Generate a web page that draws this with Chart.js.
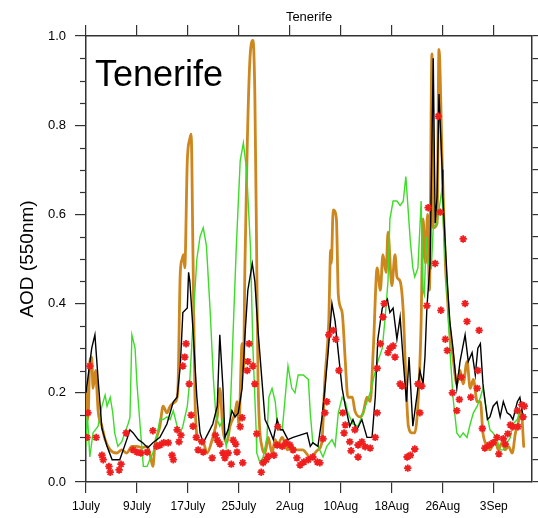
<!DOCTYPE html>
<html>
<head>
<meta charset="utf-8">
<title>Tenerife AOD</title>
<script src="https://cdn.jsdelivr.net/npm/chart.js@4.4.1/dist/chart.umd.min.js"></script>
<style>
  html, body { margin: 0; padding: 0; background: #fff; }
  #wrap { width: 538px; height: 518px; }
</style>
</head>
<body>
<div id="wrap"><canvas id="aodChart" width="538" height="518"></canvas></div>
<script>
// station name and axis labels
const stationName = 'Tenerife';
const yTitle = 'AOD (550nm)';

// days after 1 July and their labels
const tickDays = [0, 8, 16, 24, 32, 40, 48, 56, 64];
const tickLabels = ['1July', '9July', '17July', '25July', '2Aug', '10Aug', '18Aug', '26Aug', '3Sep'];

// model runs, [day, AOD]
const modelBlack = [
  [0, 0.20], [0.9, 0.30], [1.4, 0.33], [1.9, 0.23], [2.5, 0.12], [3.3, 0.08], [4.1, 0.05], [5.3, 0.05],
  [6.4, 0.095], [6.9, 0.117], [7.4, 0.11], [8.2, 0.095], [8.9, 0.088], [9.7, 0.077], [10.5, 0.088],
  [11.6, 0.10], [12.7, 0.13], [13.7, 0.18], [14.3, 0.19], [14.8, 0.26], [15.2, 0.38], [15.9, 0.39],
  [16.1, 0.47], [16.3, 0.45], [16.8, 0.34], [17.4, 0.19], [17.9, 0.11], [18.4, 0.088], [19.2, 0.11],
  [19.9, 0.13], [20.6, 0.17], [21.0, 0.33], [21.5, 0.21], [21.8, 0.10], [22.3, 0.117], [22.9, 0.16],
  [23.4, 0.146], [23.9, 0.155], [24.5, 0.21], [25.0, 0.34], [25.4, 0.43], [26.1, 0.49], [26.5, 0.45],
  [27.0, 0.34], [27.6, 0.23], [28.1, 0.14], [28.6, 0.125], [29.4, 0.095], [30.0, 0.14], [30.5, 0.117],
  [30.9, 0.117], [31.7, 0.095], [32.5, 0.10], [33.6, 0.105], [34.7, 0.11], [35.2, 0.08], [35.6, 0.088],
  [36.4, 0.08], [37.0, 0.14], [37.5, 0.21], [38.0, 0.29], [38.6, 0.40], [39.1, 0.36], [39.6, 0.29],
  [40.2, 0.21], [40.7, 0.17], [41.4, 0.125], [41.9, 0.14], [42.5, 0.117], [43.3, 0.14], [44.1, 0.10],
  [44.9, 0.10], [45.4, 0.19], [45.8, 0.32], [46.5, 0.39], [47.3, 0.41], [47.7, 0.38], [48.2, 0.39],
  [48.8, 0.32], [49.3, 0.37], [49.8, 0.27], [50.3, 0.18], [50.7, 0.28], [51.3, 0.125], [52.0, 0.20],
  [52.4, 0.25], [52.9, 0.22], [53.2, 0.28], [53.5, 0.39], [54.0, 0.49], [54.5, 0.95], [54.8, 0.58],
  [55.1, 0.64], [55.4, 0.87], [55.9, 0.70], [56.0, 0.64], [56.7, 0.45], [57.1, 0.36], [57.6, 0.30],
  [58.2, 0.21], [58.7, 0.27], [59.5, 0.33], [60.0, 0.27], [60.6, 0.29], [61.1, 0.24], [61.5, 0.30],
  [61.9, 0.31], [62.3, 0.22], [63.0, 0.14], [63.4, 0.146], [63.9, 0.17], [64.5, 0.18], [65.0, 0.146],
  [65.5, 0.18], [66.1, 0.155], [66.6, 0.15], [67.0, 0.14], [67.7, 0.18], [68.1, 0.19], [68.6, 0.146]
];

const modelOrange = [
  [0, 0.21], [0.3, 0.14], [0.6, 0.27], [0.9, 0.28], [1.1, 0.21], [1.5, 0.25], [1.7, 0.21], [1.9, 0.16],
  [2.5, 0.125], [3.0, 0.095], [3.8, 0.072], [4.8, 0.065], [5.6, 0.072], [6.4, 0.065], [7.2, 0.08],
  [8.0, 0.08], [8.8, 0.077], [9.6, 0.08], [10.0, 0.065], [10.5, 0.035], [10.8, 0.08], [11.6, 0.125],
  [12.1, 0.17], [12.7, 0.155], [13.2, 0.17], [14.0, 0.18], [14.4, 0.20], [14.8, 0.47], [15.1, 0.50],
  [15.3, 0.51], [15.5, 0.48], [15.9, 0.72], [16.3, 0.77], [16.5, 0.78], [16.8, 0.50], [17.1, 0.19],
  [17.6, 0.095], [18.4, 0.088], [19.0, 0.065], [19.8, 0.095], [20.6, 0.146], [21.0, 0.21], [21.5, 0.117],
  [22.1, 0.088], [22.6, 0.125], [23.4, 0.155], [23.7, 0.18], [24.0, 0.13], [24.5, 0.31], [24.7, 0.25],
  [24.95, 0.49], [25.3, 0.75], [25.7, 0.94], [26.2, 0.99], [26.5, 0.87], [26.8, 0.49], [27.0, 0.23],
  [27.6, 0.08], [28.1, 0.065], [28.6, 0.10], [29.2, 0.065], [29.7, 0.095], [30.0, 0.08], [30.8, 0.10],
  [31.6, 0.072], [32.3, 0.08], [33.1, 0.072], [34.0, 0.072], [35.2, 0.056], [36.4, 0.072], [37.0, 0.088],
  [37.5, 0.23], [38.1, 0.36], [38.4, 0.52], [38.5, 0.49], [38.8, 0.61], [39.3, 0.59], [39.6, 0.42],
  [40.2, 0.38], [40.7, 0.27], [41.1, 0.19], [41.8, 0.19], [42.2, 0.16], [43.0, 0.146], [43.5, 0.155],
  [44.1, 0.19], [44.6, 0.18], [45.1, 0.30], [45.7, 0.48], [46.2, 0.43], [46.6, 0.51], [47.1, 0.47],
  [47.4, 0.56], [48.0, 0.44], [48.5, 0.51], [48.8, 0.46], [49.3, 0.45], [49.8, 0.38], [50.2, 0.23],
  [50.6, 0.125], [51.2, 0.11], [51.6, 0.11], [52.3, 0.23], [52.6, 0.36], [52.9, 0.59], [53.3, 0.49],
  [53.6, 0.60], [53.9, 0.43], [54.3, 0.96], [54.5, 0.57], [55.1, 0.58], [55.4, 0.97], [55.9, 0.72],
  [56.4, 0.49], [56.7, 0.42], [57.1, 0.34], [57.6, 0.28], [58.2, 0.22], [58.7, 0.25], [59.2, 0.22],
  [59.8, 0.27], [60.3, 0.21], [60.8, 0.23], [61.4, 0.18], [61.9, 0.18], [62.3, 0.11], [63.0, 0.08],
  [63.4, 0.072], [64.2, 0.095], [64.7, 0.072], [65.3, 0.088], [65.8, 0.072], [66.3, 0.08], [66.9, 0.065],
  [67.4, 0.11], [67.8, 0.13], [68.3, 0.16], [68.7, 0.08]
];

const modelGreen = [
  [0, 0.08], [0.2, 0.155], [0.6, 0.056], [1.1, 0.11], [1.9, 0.125], [2.5, 0.17], [3.0, 0.195], [3.3, 0.17],
  [3.8, 0.19], [4.2, 0.155], [4.5, 0.11], [5.0, 0.08], [5.6, 0.09], [6.1, 0.11], [6.6, 0.13], [6.9, 0.145],
  [7.2, 0.33], [7.7, 0.30], [8.0, 0.22], [8.5, 0.125], [9.0, 0.035], [9.6, 0.035], [10.0, 0.05],
  [10.5, 0.065], [11.1, 0.10], [11.6, 0.14], [12.1, 0.14], [12.7, 0.146], [13.2, 0.14], [13.7, 0.16],
  [14.3, 0.125], [14.8, 0.11], [15.2, 0.125], [15.9, 0.17], [16.3, 0.23], [16.8, 0.36], [17.4, 0.50],
  [17.9, 0.55], [18.4, 0.57], [18.9, 0.53], [19.5, 0.38], [20.0, 0.23], [20.4, 0.146], [21.0, 0.125],
  [21.5, 0.14], [22.0, 0.08], [22.6, 0.14], [23.1, 0.34], [23.6, 0.53], [24.2, 0.72], [24.7, 0.76],
  [25.2, 0.70], [25.8, 0.53], [26.2, 0.30], [26.7, 0.117], [26.8, 0.065], [27.3, 0.043], [27.8, 0.056],
  [28.4, 0.10], [28.7, 0.19], [29.2, 0.21], [29.7, 0.18], [30.1, 0.117], [30.8, 0.117], [31.2, 0.18],
  [31.7, 0.26], [32.3, 0.21], [32.8, 0.20], [33.3, 0.24], [34.1, 0.24], [34.9, 0.23], [35.2, 0.155],
  [35.6, 0.088], [36.4, 0.08], [37.2, 0.056], [37.8, 0.08], [38.6, 0.095], [39.1, 0.08], [39.6, 0.155],
  [40.2, 0.19], [40.7, 0.18], [41.1, 0.155], [41.9, 0.13], [42.7, 0.125], [43.5, 0.155], [44.1, 0.18],
  [44.6, 0.20], [45.1, 0.23], [45.8, 0.27], [46.5, 0.30], [46.9, 0.36], [47.4, 0.45], [47.7, 0.59],
  [48.2, 0.63], [48.8, 0.63], [49.3, 0.62], [49.8, 0.63], [50.2, 0.685], [50.9, 0.54], [51.3, 0.48],
  [51.6, 0.46], [52.1, 0.48], [52.6, 0.63], [52.9, 0.43], [53.1, 0.42], [53.4, 0.55], [53.7, 0.49],
  [54.2, 0.48], [54.5, 0.57], [55.1, 0.58], [55.6, 0.63], [55.9, 0.66], [56.0, 0.60], [56.7, 0.42],
  [57.1, 0.30], [57.6, 0.19], [58.2, 0.11], [58.7, 0.10], [59.2, 0.11], [59.8, 0.10], [60.3, 0.13],
  [60.8, 0.155], [61.4, 0.17], [61.9, 0.19], [62.3, 0.21], [63.0, 0.146], [63.4, 0.117], [63.9, 0.11],
  [64.5, 0.095], [65.0, 0.072], [65.5, 0.072], [66.1, 0.088], [66.6, 0.10], [67.0, 0.13], [67.7, 0.14],
  [68.1, 0.16], [68.6, 0.16]
];

// observations (red stars), [day, AOD]
const observed = [
  [0.16, 0.10], [0.3, 0.155], [0.6, 0.26], [1.6, 0.10], [2.5, 0.06], [2.7, 0.05], [3.6, 0.035], [3.8, 0.022],
  [5.2, 0.027], [5.5, 0.04], [6.3, 0.11], [7.4, 0.072], [8.0, 0.067], [8.6, 0.065], [9.6, 0.067], [10.5, 0.115],
  [11.1, 0.08], [11.6, 0.083], [12.2, 0.088], [12.9, 0.088], [13.5, 0.06], [13.7, 0.05], [14.3, 0.117],
  [14.6, 0.09], [14.9, 0.105], [15.2, 0.26], [15.5, 0.28], [15.7, 0.31], [16.2, 0.22], [16.5, 0.15],
  [16.8, 0.125], [17.3, 0.10], [17.6, 0.072], [18.2, 0.09], [18.4, 0.067], [19.8, 0.054], [20.3, 0.105],
  [20.6, 0.094], [21.0, 0.085], [21.5, 0.065], [21.8, 0.054], [22.3, 0.065], [22.8, 0.04], [23.1, 0.094],
  [23.5, 0.085], [23.7, 0.067], [24.2, 0.124], [24.5, 0.144], [24.6, 0.043], [25.3, 0.25], [25.4, 0.27],
  [25.6, 0.31], [26.2, 0.26], [26.5, 0.22], [26.8, 0.108], [27.5, 0.022], [27.8, 0.043], [28.3, 0.05],
  [28.6, 0.058], [29.5, 0.06], [30.0, 0.083], [30.1, 0.124], [30.8, 0.08], [31.4, 0.088], [32.0, 0.083],
  [32.5, 0.072], [33.1, 0.054], [33.6, 0.038], [34.2, 0.045], [34.9, 0.05], [35.6, 0.056], [36.3, 0.045],
  [36.7, 0.043], [37.2, 0.097], [37.5, 0.155], [37.8, 0.18], [38.1, 0.33], [38.8, 0.34], [39.2, 0.32],
  [39.7, 0.25], [40.3, 0.155], [40.7, 0.128], [40.5, 0.11], [41.4, 0.09], [41.6, 0.07], [42.2, 0.117],
  [42.7, 0.083], [42.7, 0.056], [43.3, 0.09], [43.8, 0.079], [44.6, 0.076], [45.4, 0.10], [45.7, 0.155],
  [45.7, 0.255], [46.2, 0.31], [46.6, 0.37], [46.8, 0.40], [47.4, 0.29], [47.7, 0.30], [48.2, 0.305],
  [48.5, 0.28], [49.3, 0.22], [49.6, 0.215], [50.4, 0.056], [50.5, 0.031], [50.9, 0.06], [51.6, 0.074],
  [52.1, 0.22], [52.4, 0.155], [52.7, 0.215], [53.5, 0.395], [53.7, 0.615], [54.8, 0.49], [55.3, 0.82],
  [55.6, 0.605], [55.7, 0.385], [56.4, 0.32], [56.7, 0.295], [57.5, 0.20], [58.2, 0.16], [58.6, 0.185],
  [58.9, 0.235], [59.2, 0.545], [59.5, 0.40], [59.8, 0.36], [60.4, 0.19], [61.4, 0.21], [61.5, 0.25],
  [61.7, 0.34], [62.2, 0.12], [62.6, 0.076], [63.3, 0.083], [63.9, 0.088], [64.5, 0.10], [64.8, 0.063],
  [65.5, 0.097], [65.8, 0.085], [66.2, 0.108], [66.6, 0.128], [67.0, 0.124], [67.7, 0.16], [67.8, 0.124],
  [68.4, 0.173], [68.8, 0.17], [68.6, 0.146]
];

const font = '"Liberation Sans", Arial, Helvetica, sans-serif';
const axisColor = '#333';

function toXY(arr) {
  return arr.map(p => ({ x: p[0], y: p[1] }));
}

// extra decoration: minor ticks on left axis, titles
const decor = {
  id: 'decor',
  afterDraw(chart) {
    const ctx = chart.ctx;
    const a = chart.chartArea;
    const y = chart.scales.y;
    ctx.save();
    ctx.strokeStyle = axisColor;
    ctx.lineWidth = 1.2;
    for (let i = 1; i < 20; i++) {
      if (i % 4 === 0) continue;
      const py = Math.round(y.getPixelForValue(i * 0.05)) + 0.5;
      ctx.beginPath();
      ctx.moveTo(a.left - 6, py);
      ctx.lineTo(a.left, py);
      ctx.stroke();
    }
    ctx.fillStyle = '#000';
    ctx.textAlign = 'center';
    ctx.font = '13px ' + font;
    ctx.fillText(stationName, (a.left + a.right) / 2, 21);
    ctx.textAlign = 'left';
    ctx.font = '36px ' + font;
    ctx.fillText(stationName, a.left + 9, 86);
    ctx.restore();
  }
};

const setTicks = s => { s.ticks = tickDays.map(v => ({ value: v })); };

new Chart(document.getElementById('aodChart'), {
  type: 'line',
  data: {
    datasets: [
      {
        data: toXY(observed),
        showLine: false,
        pointStyle: 'star',
        pointRadius: 3.7,
        pointBorderColor: 'rgb(240, 30, 30)',
        pointBorderWidth: 1.8,
        borderColor: 'rgb(240, 30, 30)'
      },
      {
        data: toXY(modelBlack),
        borderColor: '#000',
        borderWidth: 1.4,
        pointRadius: 0,
        tension: 0
      },
      {
        data: toXY(modelGreen),
        borderColor: 'rgb(60, 220, 40)',
        borderWidth: 1.4,
        pointRadius: 0,
        tension: 0
      },
      {
        data: toXY(modelOrange),
        borderColor: 'rgb(205, 135, 30)',
        borderWidth: 2.8,
        borderJoinStyle: 'round',
        borderCapStyle: 'round',
        cubicInterpolationMode: 'monotone',
        pointRadius: 0
      }
    ]
  },
  options: {
    responsive: false,
    animation: false,
    events: [],
    layout: { padding: 0 },
    plugins: {
      legend: { display: false },
      tooltip: { enabled: false }
    },
    scales: {
      x: {
        type: 'linear',
        position: 'bottom',
        min: 0,
        max: 70,
        afterBuildTicks: setTicks,
        afterFit: s => { s.height = 36; },
        ticks: {
          callback: (v, i) => tickLabels[i],
          font: { family: font, size: 12 },
          color: '#000',
          padding: 6,
          maxRotation: 0,
          autoSkip: false
        },
        grid: { drawOnChartArea: false, tickLength: 11, color: axisColor, lineWidth: 1.2 },
        border: { color: axisColor, width: 1.5 }
      },
      xTop: {
        type: 'linear',
        position: 'top',
        min: 0,
        max: 70,
        afterBuildTicks: setTicks,
        afterFit: s => { s.height = 36; },
        ticks: { display: false },
        grid: { drawOnChartArea: false, tickLength: 11, color: axisColor, lineWidth: 1.2 },
        border: { color: axisColor, width: 1.5 }
      },
      y: {
        position: 'left',
        min: 0,
        max: 1,
        afterFit: s => { s.width = 86; },
        ticks: {
          stepSize: 0.2,
          callback: v => v.toFixed(1),
          font: { family: font, size: 13 },
          color: '#000',
          padding: 9
        },
        grid: { drawOnChartArea: false, tickLength: 11, color: axisColor, lineWidth: 1.2 },
        border: { color: axisColor, width: 1.5 },
        title: {
          display: true,
          text: yTitle,
          font: { family: font, size: 19 },
          color: '#000',
          padding: { top: 16, bottom: 0 }
        }
      },
      yRight: {
        position: 'right',
        min: 0,
        max: 1,
        afterFit: s => { s.width = 6; },
        afterBuildTicks: s => {
          const t = [];
          for (let i = 0; i <= 20; i++) t.push({ value: i * 0.05 });
          s.ticks = t;
        },
        ticks: { display: false },
        grid: { drawOnChartArea: false, tickLength: 6, color: axisColor, lineWidth: 1.2 },
        border: { color: axisColor, width: 1.5 }
      }
    }
  },
  plugins: [decor]
});
</script>
</body>
</html>
